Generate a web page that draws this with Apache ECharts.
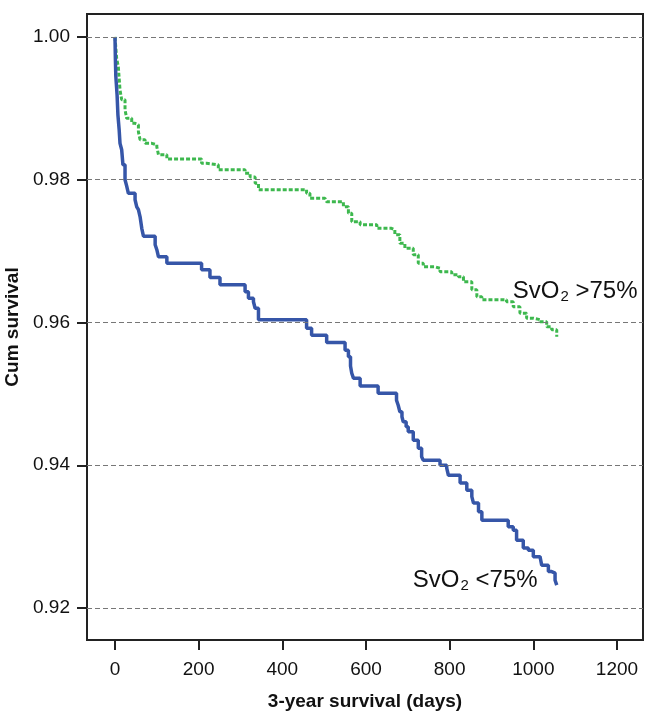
<!DOCTYPE html>
<html>
<head>
<meta charset="utf-8">
<script src="https://cdn.jsdelivr.net/npm/echarts@6/dist/echarts.min.js"></script>
<style>html,body{margin:0;padding:0;background:#fff}#c{width:650px;height:717px}</style>
</head>
<body>
<div id="c"></div>
<script>
// Tick labels
const xTicks = [0, 200, 400, 600, 800, 1000, 1200];
const yTicks = [0.92, 0.94, 0.96, 0.98, 1.00];

// SvO2 <75% (blue, solid): event day, cumulative survival after event
const lowDays = [0, 1, 2, 5, 7, 10, 12, 16, 19, 24, 28, 32, 48, 52, 56, 60, 64, 68, 96, 100, 104, 124, 207, 227, 251, 311, 319, 331, 335, 343, 458, 470, 506, 550, 558, 563, 566, 570, 586, 629, 673, 677, 681, 686, 689, 696, 701, 713, 725, 733, 737, 777, 793, 797, 825, 841, 853, 857, 869, 877, 940, 952, 960, 976, 988, 1000, 1016, 1020, 1036, 1044, 1052, 1056];
const lowSurv = [1.0000, 0.9968, 0.9945, 0.9919, 0.9891, 0.9870, 0.9851, 0.9842, 0.9821, 0.9800, 0.9791, 0.9781, 0.9772, 0.9762, 0.9758, 0.9748, 0.9732, 0.9721, 0.9709, 0.9702, 0.9692, 0.9683, 0.9674, 0.9663, 0.9653, 0.9643, 0.9634, 0.9629, 0.9620, 0.9604, 0.9592, 0.9582, 0.9572, 0.9561, 0.9552, 0.9539, 0.9529, 0.9522, 0.9511, 0.9501, 0.9491, 0.9484, 0.9475, 0.9468, 0.9461, 0.9454, 0.9447, 0.9435, 0.9424, 0.9412, 0.9407, 0.9400, 0.9396, 0.9386, 0.9375, 0.9365, 0.9356, 0.9347, 0.9335, 0.9323, 0.9314, 0.9309, 0.9295, 0.9284, 0.9281, 0.9272, 0.9270, 0.9260, 0.9251, 0.9249, 0.9239, 0.9232];

// SvO2 >75% (green, dotted)
const highDays = [0, 4, 8, 12, 16, 24, 28, 40, 48, 56, 60, 72, 88, 100, 104, 124, 207, 219, 247, 311, 323, 335, 343, 458, 466, 502, 506, 546, 558, 566, 586, 626, 661, 669, 681, 693, 713, 725, 737, 765, 777, 805, 821, 833, 853, 865, 877, 936, 952, 968, 984, 1000, 1016, 1032, 1044, 1056];
const highSurv = [1.0000, 0.9970, 0.9958, 0.9926, 0.9912, 0.9898, 0.9886, 0.9879, 0.9877, 0.9867, 0.9856, 0.9851, 0.9849, 0.9846, 0.9835, 0.9829, 0.9823, 0.9821, 0.9814, 0.9809, 0.9804, 0.9795, 0.9786, 0.9781, 0.9774, 0.9772, 0.9769, 0.9762, 0.9753, 0.9741, 0.9737, 0.9732, 0.9730, 0.9723, 0.9711, 0.9704, 0.9695, 0.9683, 0.9678, 0.9676, 0.9671, 0.9667, 0.9664, 0.9657, 0.9646, 0.9636, 0.9632, 0.9629, 0.9622, 0.9613, 0.9606, 0.9604, 0.9601, 0.9594, 0.9590, 0.9580];

// Curve labels (anchor in data space)
const labelHigh = { day: 951, surv: 0.9644, text: '>75%' };
const labelLow = { day: 712, surv: 0.9239, text: '<75%' };

const zip = (a, b) => a.map((v, i) => [v, b[i]]);
const FONT = '"Liberation Sans", Arial, sans-serif';
const richLbl = {
  a: { fontSize: 24, fontFamily: FONT, color: '#111', lineHeight: 28 },
  b: { fontSize: 15, fontFamily: FONT, color: '#111', padding: [12, 0, 0, 1] }
};
const fmt = t => '{a|SvO}{b|2}{a| ' + t + '}';

const chart = echarts.init(document.getElementById('c'), null, { renderer: 'canvas' });
chart.setOption({
  animation: false,
  backgroundColor: '#fff',
  grid: { left: 87, right: 7, top: 14, bottom: 77, outerBoundsMode: 'none', containLabel: false, show: true, borderColor: '#222', borderWidth: 2, backgroundColor: 'transparent' },
  xAxis: {
    type: 'value', min: -66.9, max: 1262.2,
    name: '3-year survival (days)', nameLocation: 'middle', nameGap: 52,
    nameTextStyle: { fontFamily: FONT, fontWeight: 'bold', fontSize: 19, color: '#111' },
    axisLine: { show: false, onZero: false },
    axisTick: { show: true, length: 10, lineStyle: { color: '#222', width: 2 }, customValues: xTicks },
    axisLabel: { customValues: xTicks, fontFamily: FONT, fontSize: 19, color: '#111', margin: 20, formatter: v => String(v) },
    splitLine: { show: false }
  },
  yAxis: {
    type: 'value', min: 0.91552, max: 1.00322,
    name: 'Cum survival', nameLocation: 'middle', nameGap: 65,
    nameTextStyle: { fontFamily: FONT, fontWeight: 'bold', fontSize: 19, color: '#111' },
    axisLine: { show: false, onZero: false },
    axisTick: { show: true, length: 10, lineStyle: { color: '#222', width: 2 }, customValues: yTicks },
    axisLabel: { customValues: yTicks, fontFamily: FONT, fontSize: 19, color: '#111', margin: 17, formatter: v => v.toFixed(2) },
    splitLine: { show: false }
  },
  series: [
    {
      type: 'line', data: [], z: 0, silent: true,
      markLine: {
        silent: true, symbol: ['none', 'none'], label: { show: false },
        lineStyle: { type: [5, 3], color: '#777', width: 1 },
        data: yTicks.map(v => ({ yAxis: v }))
      }
    },
    {
      name: 'SvO2 >75%', type: 'line', step: 'end', showSymbol: false, z: 3,
      data: zip(highDays, highSurv),
      lineStyle: { color: '#3db84e', width: 3, type: [4, 2] },
      markPoint: {
        symbol: 'circle', symbolSize: 0,
        data: [{ coord: [labelHigh.day, labelHigh.surv] }],
        label: { show: true, position: 'right', distance: 0, formatter: fmt(labelHigh.text), rich: richLbl }
      }
    },
    {
      name: 'SvO2 <75%', type: 'line', step: 'end', showSymbol: false, z: 4,
      data: zip(lowDays, lowSurv),
      lineStyle: { color: '#3656a8', width: 3.5 },
      markPoint: {
        symbol: 'circle', symbolSize: 0,
        data: [{ coord: [labelLow.day, labelLow.surv] }],
        label: { show: true, position: 'right', distance: 0, formatter: fmt(labelLow.text), rich: richLbl }
      }
    }
  ]
});
</script>
</body>
</html>
